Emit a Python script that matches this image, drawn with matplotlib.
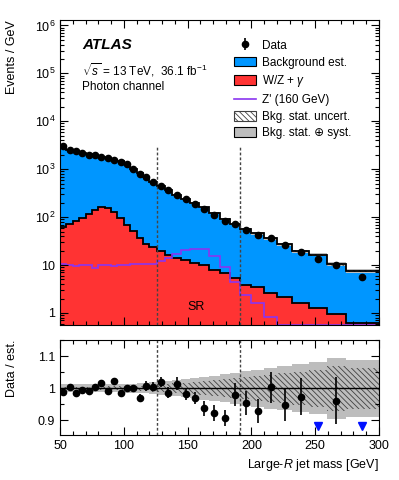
import numpy as np
import matplotlib.pyplot as plt
from matplotlib.patches import Patch
from matplotlib.lines import Line2D
from matplotlib.ticker import MultipleLocator, LogLocator, FixedLocator, FuncFormatter, NullFormatter

plt.rcParams['font.family'] = ['Liberation Sans', 'DejaVu Sans']
plt.rcParams['mathtext.fontset'] = 'custom'
plt.rcParams['mathtext.rm'] = 'Liberation Sans'
plt.rcParams['mathtext.it'] = 'Liberation Sans:italic'
plt.rcParams['mathtext.bf'] = 'Liberation Sans:bold'
plt.rcParams['hatch.linewidth'] = 0.6

# bin edges [GeV]
edges = np.array([50, 55, 60, 65, 70, 75, 80, 85, 90, 95, 100, 105, 110, 115, 120,
                  126, 132, 138, 145, 152, 159, 167, 175, 183, 191, 200, 210, 220,
                  232, 245, 259, 274, 300])

# events / GeV
data = np.array([3002, 2568, 2364, 2185, 2020, 1960, 1839, 1718, 1593, 1428, 1260,
                 1020, 806, 695, 548, 454, 365, 294, 236, 192, 150, 112.6, 84.4,
                 70.6, 54.4, 42.8, 36.1, 25.6, 19.0, 13.3, 10.1, 5.7])
data_relerr = np.array([0.006, 0.006, 0.006, 0.006, 0.007, 0.007, 0.007, 0.007, 0.008,
                        0.008, 0.008, 0.009, 0.011, 0.015, 0.014, 0.016, 0.018, 0.020,
                        0.019, 0.019, 0.025, 0.026, 0.027, 0.036, 0.039, 0.040, 0.049,
                        0.052, 0.060, 0.065, 0.075, 0.090])
bkg = np.array([3040, 2560, 2400, 2200, 2040, 1950, 1810, 1730, 1560, 1450, 1260, 1020,
                830, 690, 545, 445, 370, 290, 240, 198, 160, 122, 93, 72, 57, 46, 36,
                27, 19.5, 16.4, 10.5, 7.5])
bkg_stat = np.array([0.005, 0.005, 0.005, 0.005, 0.005, 0.005, 0.006, 0.006, 0.006,
                     0.006, 0.007, 0.007, 0.008, 0.009, 0.010, 0.011, 0.013, 0.015,
                     0.017, 0.019, 0.022, 0.025, 0.028, 0.031, 0.034, 0.038, 0.042,
                     0.047, 0.052, 0.058, 0.070, 0.063])
bkg_tot = np.array([0.012, 0.012, 0.012, 0.012, 0.012, 0.012, 0.013, 0.013, 0.013,
                    0.013, 0.014, 0.014, 0.015, 0.016, 0.018, 0.020, 0.022, 0.025,
                    0.028, 0.031, 0.035, 0.039, 0.043, 0.048, 0.055, 0.058, 0.064,
                    0.068, 0.074, 0.081, 0.095, 0.089])
wz_gamma = np.array([63, 72, 84, 96, 119, 142, 164, 154, 129, 96, 69, 52, 36, 28, 24,
                     20, 15.9, 14, 12.7, 11, 9.8, 8, 6.9, 5.3, 3.8, 3.5, 2.6, 2.2,
                     1.64, 1.25, 0.93, 0.63])
zprime = np.array([10.7, 10.0, 9.7, 9.9, 10.2, 8.8, 9.9, 10.1, 9.7, 10.2, 9.9, 10.3,
                   10.6, 10.5, 10.7, 12.1, 14.2, 16.6, 20.8, 21.8, 21.8, 15.1, 9.1,
                   4.4, 2.36, 1.59, 0.81, 0, 0, 0, 0, 0])

sr_lo, sr_hi = 126, 191

blue = '#0096ff'
red = '#ff3333'
purple = '#8a35f0'
grey = '#bdbdbd'
hatch_col = '#404040'
hatch = '\\\\\\\\\\\\'

ymin, ymax = 0.56, 1.3e6
rmin, rmax = 0.855, 1.15

centers = 0.5 * (edges[1:] + edges[:-1])


def stepped(v):
    return np.append(v, v[-1])


fig = plt.figure(figsize=(3.99, 4.8), dpi=100)
ax = fig.add_axes([0.1504, 0.3229, 0.7995, 0.6354])
rax = fig.add_axes([0.1504, 0.0938, 0.7995, 0.1979])

# main panel
ax.fill_between(edges, stepped(bkg), 1e-3, step='post', color=blue, lw=0)
ax.fill_between(edges, stepped(wz_gamma), 1e-3, step='post', color=red, lw=0)
ax.fill_between(edges, stepped(bkg * (1 - bkg_tot)), stepped(bkg * (1 + bkg_tot)),
                step='post', color=grey, lw=0)
ax.fill_between(edges, stepped(bkg * (1 - bkg_stat)), stepped(bkg * (1 + bkg_stat)),
                step='post', facecolor='none', edgecolor=hatch_col, hatch=hatch, lw=0)
ax.stairs(bkg, edges, color='k', lw=1.3, baseline=None)
ax.stairs(wz_gamma, edges, color='k', lw=1.3, baseline=None)
ax.stairs(np.where(zprime > 0, zprime, ymin * 1.01), edges, color=purple, lw=1.2,
          baseline=None)
ax.vlines([sr_lo, sr_hi], ymin, 3000, colors='#444444', linestyles=(0, (2, 1.5)), lw=1)
eb = ax.errorbar(centers, data, yerr=data * data_relerr, fmt='o', color='k', ms=4.5,
                 elinewidth=1.2, capsize=0, zorder=5)
ax.text(157, 1.3, 'SR', ha='center', va='center', fontsize=9)

ax.set_yscale('log')
ax.set_xlim(50, 300)
ax.set_ylim(ymin, ymax)
ax.yaxis.set_major_locator(LogLocator(base=10, numticks=20))
ax.yaxis.set_minor_locator(LogLocator(base=10, subs=np.arange(2, 10), numticks=20))
ax.yaxis.set_minor_formatter(NullFormatter())


def logfmt(v, pos):
    e = int(round(np.log10(v)))
    if e == 0:
        return '1'
    if e == 1:
        return '10'
    return '$10^{%d}$' % e


ax.yaxis.set_major_formatter(FuncFormatter(logfmt))
ax.set_ylabel('Events / GeV', loc='top', fontsize=9)
ax.yaxis.set_label_coords(-0.132, 1.0)

ax.text(0.069, 0.918, 'ATLAS', transform=ax.transAxes, fontsize=11,
        fontweight='bold', fontstyle='italic', va='center')
ax.text(0.069, 0.836, r'$\sqrt{s}$ = 13 TeV,  36.1 fb$^{-1}$', transform=ax.transAxes,
        fontsize=8.5, va='center')
ax.text(0.069, 0.780, 'Photon channel', transform=ax.transAxes, fontsize=8.5,
        va='center')

handles = [eb,
           Patch(facecolor=blue, edgecolor='k', lw=0.8),
           Patch(facecolor=red, edgecolor='k', lw=0.8),
           Line2D([], [], color=purple, lw=1.2),
           Patch(facecolor='white', edgecolor=hatch_col, hatch=hatch, lw=0.8),
           Patch(facecolor=grey, edgecolor='k', lw=0.8)]
labels = ['Data', 'Background est.', r'W/Z + $\gamma$', "Z' (160 GeV)",
          'Bkg. stat. uncert.', 'Bkg. stat. \u2295 syst.']
ax.legend(handles, labels, loc='upper left', bbox_to_anchor=(0.545, 0.935),
          frameon=False, fontsize=8.5, handlelength=1.9, handleheight=0.9,
          handletextpad=0.5, labelspacing=0.4, borderpad=0, borderaxespad=0)

# ratio panel
ratio = data / bkg
ratio_err = ratio * data_relerr
inside = ratio > rmin
rax.fill_between(edges, stepped(1 - bkg_tot), stepped(1 + bkg_tot), step='post',
                 color=grey, lw=0)
rax.fill_between(edges, stepped(1 - bkg_stat), stepped(1 + bkg_stat), step='post',
                 facecolor='none', edgecolor=hatch_col, hatch=hatch, lw=0)
rax.axhline(1, color='k', lw=1)
rax.vlines([sr_lo, sr_hi], rmin, rmax, colors='#444444', linestyles=(0, (2, 1.5)), lw=1)
rax.errorbar(centers[inside], ratio[inside], yerr=ratio_err[inside], fmt='o', color='k',
             ms=4.5, elinewidth=1.2, capsize=0, zorder=5)
rax.plot(centers[~inside], np.full((~inside).sum(), 0.883), 'v', color='#0010ff', ms=6,
         zorder=5)

rax.set_xlim(50, 300)
rax.set_ylim(rmin, rmax)
rax.yaxis.set_major_locator(FixedLocator([0.9, 1.0, 1.1]))
rax.yaxis.set_major_formatter(FuncFormatter(lambda v, p: '%g' % round(v, 2)))
rax.yaxis.set_minor_locator(FixedLocator([0.95, 1.05, 1.15]))
rax.yaxis.set_minor_formatter(NullFormatter())
rax.set_ylabel('Data / est.', loc='top', fontsize=9)
rax.yaxis.set_label_coords(-0.132, 1.0)
rax.set_xlabel('Large-$R$ jet mass [GeV]', loc='right', fontsize=9)

for a in (ax, rax):
    a.xaxis.set_major_locator(MultipleLocator(50))
    a.xaxis.set_minor_locator(MultipleLocator(10))
    a.tick_params(which='both', direction='in', top=True, right=True, labelsize=9)
    a.tick_params(which='major', length=6, width=0.8)
    a.tick_params(which='minor', length=3, width=0.8)
    for s in a.spines.values():
        s.set_linewidth(0.8)
ax.tick_params(labelbottom=False)

fig.savefig('out.png', dpi=100)
